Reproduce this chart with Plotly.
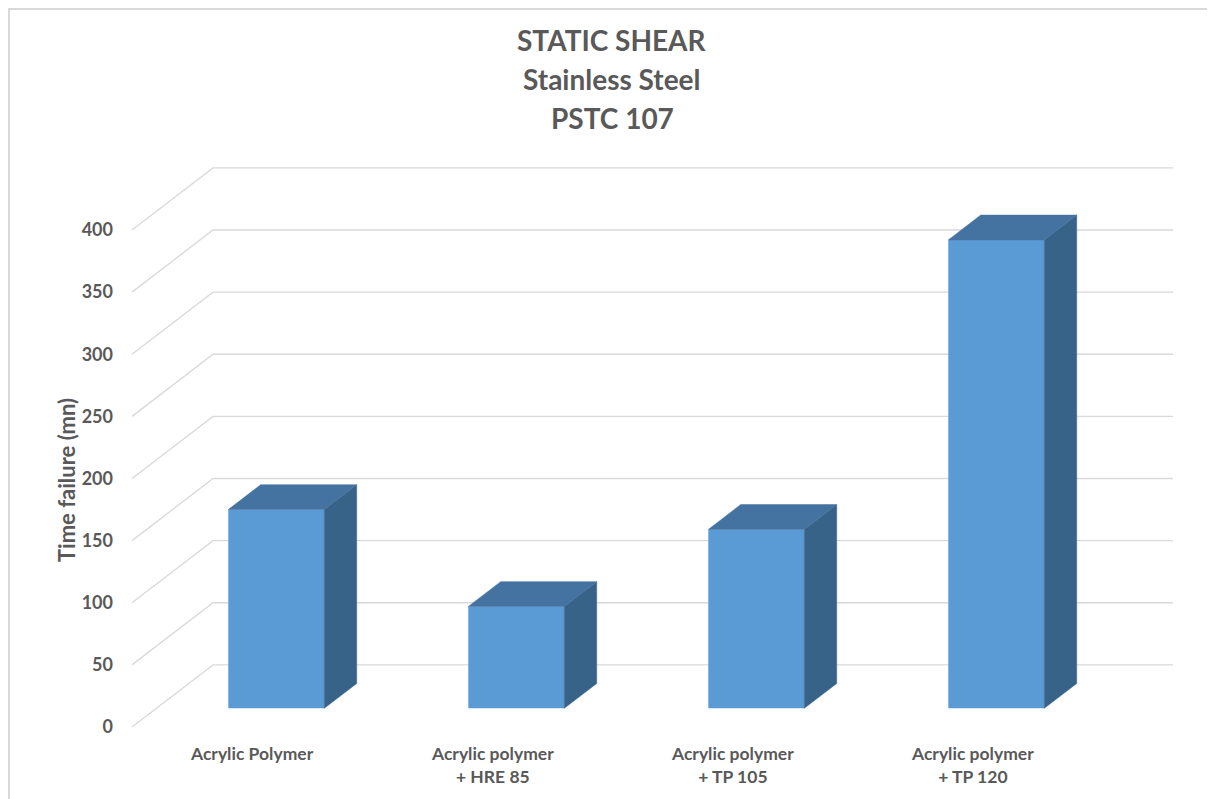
import plotly.graph_objects as go

# data
categories = ["Acrylic Polymer", "Acrylic polymer<br>+ HRE 85",
              "Acrylic polymer<br>+ TP 105", "Acrylic polymer<br>+ TP 120"]
time_failure = [160, 82, 144, 377]
y_ticks = [0, 50, 100, 150, 200, 250, 300, 350, 400]
title_lines = ["STATIC SHEAR", "Stainless Steel", "PSTC 107"]

# pseudo 3D geometry (oblique projection in data units)
DEPTH_X = 0.3375      # full floor depth, in category units
DEPTH_Y = 50          # full floor depth, in value units
BAR_W = 0.4
D_FRONT, D_BACK = 0.3, 0.7

TEXT = "#595959"
GRID = "#D9D9D9"
FRONT = "#5B9BD5"
TOP = "#4573A1"
SIDE = "#376388"
FONT = "Lato"

# the page body has an 8px margin, so work in figure pixels = page pixels - 8
OFF = 8
W, H = 1215 - OFF, 799 - OFF
L, R, T, B = 106, 20, 132, 54
plot_w, plot_h = W - L - R, H - T - B
PX_X = 240.0          # px per category
PX_Y = 1.2425         # px per value unit
x0_px, y0_px = 132 - OFF, 727 - OFF


def paper_x(px):
    return (px - OFF - L) / plot_w


def paper_y(py):
    return (H - B - (py - OFF)) / plot_h


n = len(categories)
fig = go.Figure()

# back wall + side wall gridlines
shapes = []
for v in y_ticks:
    shapes.append(dict(type="path", xref="x", yref="y", layer="below",
                       path=f"M 0,{v} L {DEPTH_X},{v + DEPTH_Y} L {n + DEPTH_X},{v + DEPTH_Y}",
                       line=dict(color=GRID, width=1.3)))

# chart border (top + left)
shapes.append(dict(type="path", xref="paper", yref="paper", layer="below",
                   path=f"M {paper_x(9)},{paper_y(799)} L {paper_x(9)},{paper_y(9)} L {paper_x(1215)},{paper_y(9)}",
                   line=dict(color=GRID, width=2)))

# bar faces
fx = D_FRONT * DEPTH_X
fy = D_FRONT * DEPTH_Y
ddx = (D_BACK - D_FRONT) * DEPTH_X
ddy = (D_BACK - D_FRONT) * DEPTH_Y
side_x, side_y, top_x, top_y = [], [], [], []
centers = []
for i, v in enumerate(time_failure):
    c = i + 0.5 + fx
    centers.append(c)
    xl, xr = c - BAR_W / 2, c + BAR_W / 2
    side_x += [xr, xr, xr + ddx, xr + ddx, xr, None]
    side_y += [fy, fy + v, fy + v + ddy, fy + ddy, fy, None]
    top_x += [xl, xr, xr + ddx, xl + ddx, xl, None]
    top_y += [fy + v, fy + v, fy + v + ddy, fy + v + ddy, fy + v, None]

fig.add_trace(go.Bar(x=centers, y=time_failure, base=fy, width=BAR_W,
                     marker=dict(color=FRONT, line=dict(width=0)),
                     hovertemplate="%{y}<extra></extra>"))
fig.add_trace(go.Scatter(x=side_x, y=side_y, mode="lines", fill="toself",
                         fillcolor=SIDE, line=dict(width=0.5, color=SIDE),
                         hoverinfo="skip"))
fig.add_trace(go.Scatter(x=top_x, y=top_y, mode="lines", fill="toself",
                         fillcolor=TOP, line=dict(width=0.5, color=TOP),
                         hoverinfo="skip"))

annotations = []
for k, line in enumerate(title_lines):
    annotations.append(dict(text=f"<b>{line}</b>", xref="paper", yref="paper",
                            x=paper_x(612), y=paper_y(40 + 39 * k),
                            xanchor="center", yanchor="middle", showarrow=False,
                            font=dict(family=FONT, size=28, color=TEXT)))
annotations.append(dict(text="<b>Time failure (mn)</b>", xref="paper", yref="paper",
                        x=paper_x(66), y=paper_y(480), textangle=-90,
                        xanchor="center", yanchor="middle", showarrow=False,
                        font=dict(family=FONT, size=22, color=TEXT)))
# category labels under the front plane
for i, cat in enumerate(categories):
    annotations.append(dict(text=f"<b>{cat}</b>", xref="x", yref="paper",
                            x=i + 0.5, y=paper_y(752), yshift=11,
                            xanchor="center", yanchor="top", showarrow=False,
                            font=dict(family=FONT, size=17.5, color=TEXT)))

x_left = -(x0_px - L) / PX_X
y_bot = -(H - B - y0_px) / PX_Y
fig.update_layout(
    width=W, height=H,
    margin=dict(l=L, r=R, t=T, b=B),
    paper_bgcolor="white", plot_bgcolor="white",
    showlegend=False,
    shapes=shapes,
    annotations=annotations,
    font=dict(family=FONT, color=TEXT),
    xaxis=dict(range=[x_left, x_left + plot_w / PX_X],
               showticklabels=False,
               showgrid=False, zeroline=False, showline=False, ticks=""),
    yaxis=dict(range=[y_bot, y_bot + plot_h / PX_Y],
               tickvals=y_ticks,
               ticktext=[f"<b>{t}</b>" for t in y_ticks],
               tickfont=dict(family=FONT, size=18, color=TEXT),
               showgrid=False, zeroline=False, showline=False, ticks=""),
)

fig.write_html("out.html", config={"displayModeBar": False})
